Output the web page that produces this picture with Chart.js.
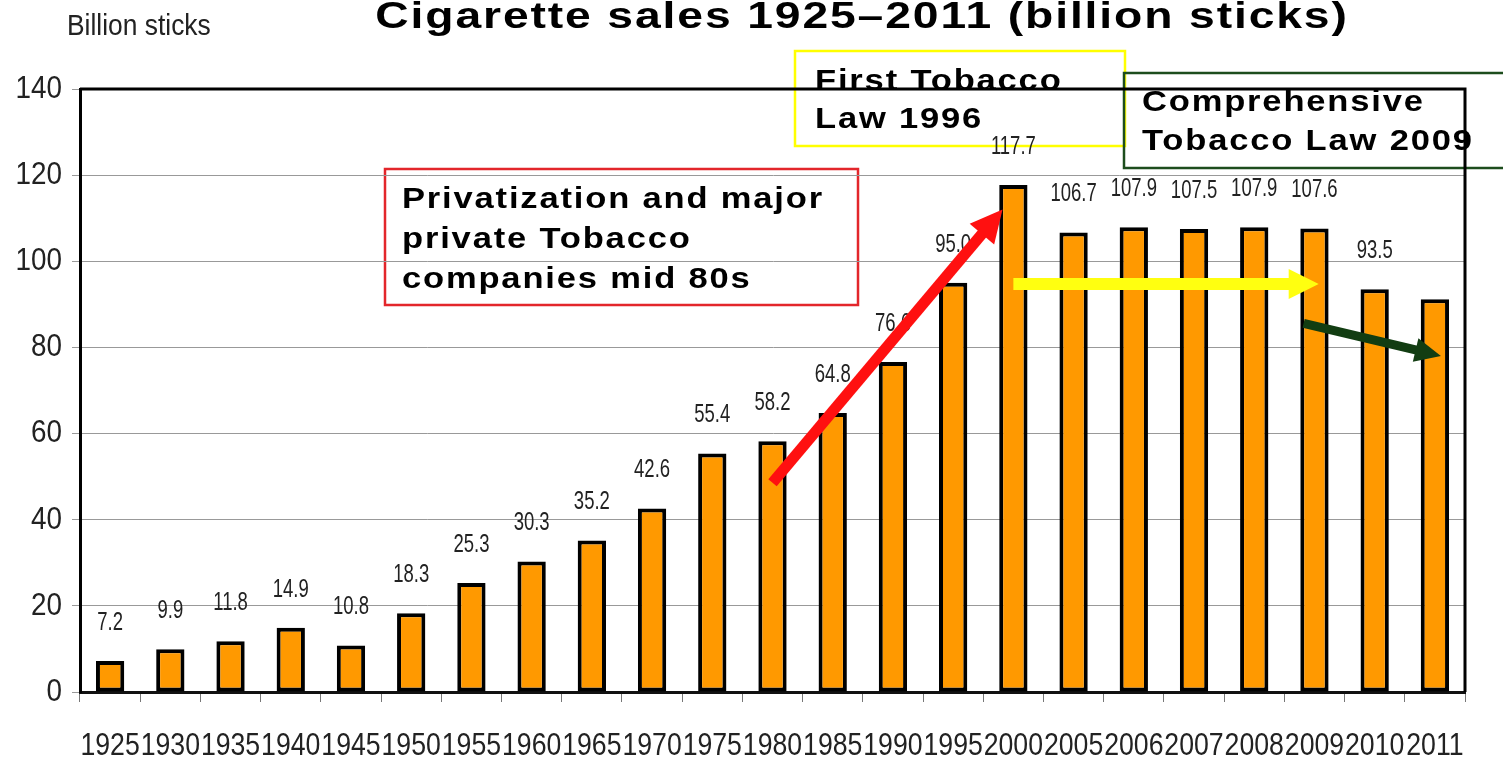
<!DOCTYPE html>
<html>
<head>
<meta charset="utf-8">
<script src="https://cdn.jsdelivr.net/npm/chart.js@4"></script>
<style>
  html, body { margin: 0; padding: 0; background: #fff; }
</style>
</head>
<body>
<canvas id="cigaretteSales" width="1503" height="761"></canvas>
<script>
// Cigarette sales per year, billion sticks
const years = ['1925', '1930', '1935', '1940', '1945', '1950', '1955', '1960', '1965', '1970', '1975',
  '1980', '1985', '1990', '1995', '2000', '2005', '2006', '2007', '2008', '2009', '2010', '2011'];
const sales = [7.2, 9.9, 11.8, 14.9, 10.8, 18.3, 25.3, 30.3, 35.2, 42.6, 55.4,
  58.2, 64.8, 76.6, 95.0, 117.7, 106.7, 107.9, 107.5, 107.9, 107.6, 93.5, 91.2];
const yMin = 0;
const yMax = 140;
const yStep = 20;

const SANS = '"Liberation Sans", Arial, sans-serif';

// text boxes (canvas pixels)
const boxes = [
  { x: 385, y: 169, w: 473, h: 136, color: '#e3262b', lines: ['Privatization and major', 'private Tobacco', 'companies mid 80s'], tx: 402, ty: 208, lh: 40 },
  { x: 795, y: 51, w: 330, h: 95, color: '#ffff00', lines: ['First Tobacco', 'Law 1996'], tx: 815, ty: 90, lh: 38 },
  { x: 1124, y: 73, w: 390, h: 95, color: '#1d4d1d', lines: ['Comprehensive', 'Tobacco Law 2009'], tx: 1142, ty: 111, lh: 39 }
];

// arrows: from/to given as [category index, value]
const arrows = [
  { from: [11.0, 48.6], to: [14.82, 112], color: '#ff1010', width: 11, head: 32, headW: 32 },
  { from: [15.0, 94.7], to: [20.07, 94.7], color: '#ffff10', width: 12, head: 30, headW: 30 },
  { from: [19.82, 85.6], to: [22.1, 78], color: '#123d12', width: 9, head: 26, headW: 24 }
];

// text squeezed or widened horizontally, with optional letter spacing
function drawText(ctx, text, x, y, font, sx, spacing, align, baseline) {
  ctx.save();
  ctx.translate(x, y);
  ctx.scale(sx, 1);
  ctx.font = font;
  ctx.letterSpacing = (spacing || 0) + 'px';
  ctx.textAlign = align || 'left';
  ctx.textBaseline = baseline || 'alphabetic';
  ctx.fillText(text, 0, 0);
  ctx.restore();
}

function drawArrow(ctx, x1, y1, x2, y2, a) {
  const ang = Math.atan2(y2 - y1, x2 - x1);
  const bx = x2 - a.head * Math.cos(ang);
  const by = y2 - a.head * Math.sin(ang);
  ctx.strokeStyle = a.color;
  ctx.fillStyle = a.color;
  ctx.lineWidth = a.width;
  ctx.lineCap = 'butt';
  ctx.beginPath();
  ctx.moveTo(x1, y1);
  ctx.lineTo(bx + Math.cos(ang), by + Math.sin(ang));
  ctx.stroke();
  const px = -Math.sin(ang) * a.headW / 2;
  const py = Math.cos(ang) * a.headW / 2;
  ctx.beginPath();
  ctx.moveTo(x2, y2);
  ctx.lineTo(bx + px, by + py);
  ctx.lineTo(bx - px, by - py);
  ctx.closePath();
  ctx.fill();
}

const decorations = {
  id: 'decorations',
  beforeDraw(chart) {
    const ctx = chart.ctx;
    ctx.save();
    ctx.fillStyle = '#fff';
    ctx.fillRect(0, 0, chart.width, chart.height);

    // title and unit
    ctx.fillStyle = '#000';
    drawText(ctx, 'Cigarette sales 1925\u20132011 (billion sticks)', 862, 28, 'bold 37px ' + SANS, 1.25, 1.5, 'center');
    ctx.fillStyle = '#222';
    drawText(ctx, 'Billion sticks', 67, 35, '30px ' + SANS, 0.88, 0, 'left');

    // annotation boxes
    boxes.forEach(b => {
      ctx.strokeStyle = b.color;
      ctx.lineWidth = 2.5;
      ctx.strokeRect(b.x, b.y, b.w, b.h);
      ctx.fillStyle = '#000';
      b.lines.forEach((t, i) => drawText(ctx, t, b.tx, b.ty + i * b.lh, 'bold 30px ' + SANS, 1.15, 1.6, 'left'));
    });
    ctx.restore();
  },
  afterDatasetsDraw(chart) {
    const ctx = chart.ctx;
    const area = chart.chartArea;
    const xs = chart.scales.x;
    const ys = chart.scales.y;
    const meta = chart.getDatasetMeta(0);
    ctx.save();

    // value labels above the bars
    ctx.fillStyle = '#222';
    meta.data.forEach((bar, i) => {
      if (i === sales.length - 1) return; // no figure printed for 2011
      drawText(ctx, sales[i].toFixed(1), bar.x, bar.y - 38, '25px ' + SANS, 0.74, 0, 'center', 'middle');
    });

    // axis labels in a narrow face
    years.forEach((yr, i) => {
      drawText(ctx, yr, xs.getPixelForValue(i), 746, '31px ' + SANS, 0.86, 0, 'center', 'middle');
    });
    ys.ticks.forEach(t => {
      drawText(ctx, String(t.value), area.left - 18, ys.getPixelForValue(t.value), '32px ' + SANS, 0.87, 0, 'right', 'middle');
    });

    // top and right frame
    ctx.strokeStyle = '#000';
    ctx.lineWidth = 3;
    ctx.beginPath();
    ctx.moveTo(area.left, area.top);
    ctx.lineTo(area.right, area.top);
    ctx.lineTo(area.right, area.bottom);
    ctx.stroke();
    ctx.restore();
  },
  afterDraw(chart) {
    const ctx = chart.ctx;
    const xs = chart.scales.x;
    const ys = chart.scales.y;
    const x0 = xs.getPixelForValue(0);
    const step = xs.getPixelForValue(1) - x0;
    ctx.save();
    arrows.forEach(a => {
      drawArrow(ctx,
        x0 + a.from[0] * step, ys.getPixelForValue(a.from[1]),
        x0 + a.to[0] * step, ys.getPixelForValue(a.to[1]), a);
    });
    ctx.restore();
  }
};

const ctx = document.getElementById('cigaretteSales').getContext('2d');

const chart = new Chart(ctx, {
  type: 'bar',
  data: {
    labels: years,
    datasets: [{
      label: 'Billion sticks',
      data: sales,
      backgroundColor: '#ff9900',
      borderColor: '#000',
      borderWidth: 4,
      borderSkipped: false,
      barPercentage: 0.47,
      categoryPercentage: 1
    }]
  },
  options: {
    responsive: false,
    animation: false,
    layout: { padding: { top: 89, right: 38, left: 0, bottom: 0 } },
    plugins: {
      legend: { display: false },
      title: { display: false },
      tooltip: { enabled: false }
    },
    scales: {
      x: {
        afterFit(scale) { scale.height = 69; },
        grid: { drawOnChartArea: false, offset: true, tickLength: 10, color: '#777' },
        border: { color: '#111', width: 3 },
        ticks: { autoSkip: false, maxRotation: 0, minRotation: 0, color: 'rgba(0,0,0,0)', font: { size: 12 } }
      },
      y: {
        min: yMin,
        max: yMax,
        afterFit(scale) { scale.width = 80; },
        grid: { color: '#999', lineWidth: 1, tickLength: 8 },
        border: { color: '#000', width: 3 },
        ticks: { stepSize: yStep, color: 'rgba(0,0,0,0)', font: { size: 12 } }
      }
    }
  },
  plugins: [decorations]
});
</script>
</body>
</html>
